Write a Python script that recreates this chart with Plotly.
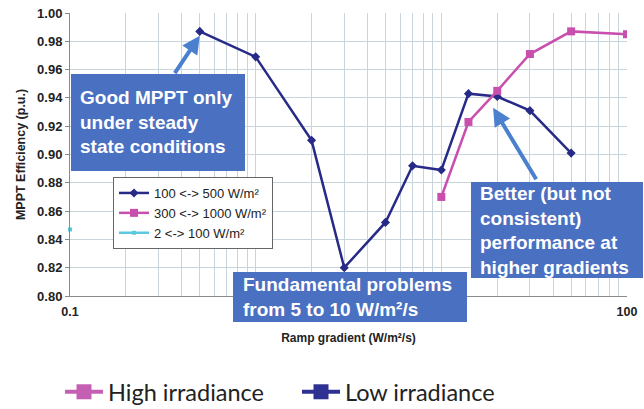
import math
import plotly.graph_objects as go

# ---- data ----
low_x = [0.5, 1, 2, 3, 5, 7, 10, 14, 20, 30, 50]
low_y = [0.987, 0.969, 0.910, 0.820, 0.852, 0.892, 0.889, 0.943, 0.941, 0.931, 0.901]
high_x = [10, 14, 20, 30, 50, 100]
high_y = [0.870, 0.923, 0.945, 0.971, 0.987, 0.985]
tiny_x = [0.1]
tiny_y = [0.847]

series_names = ["100 <-> 500 W/m²", "300 <-> 1000 W/m²", "2 <-> 100 W/m²"]
group_names = ["High irradiance", "Low irradiance"]

x_decades = [0.1, 1, 10, 100]
x_decade_labels = ["0.1", "", "10", "100"]  # the "1" label is covered by a callout box
y_ticks = [0.80, 0.82, 0.84, 0.86, 0.88, 0.90, 0.92, 0.94, 0.96, 0.98, 1.00]

NAVY = "#272a87"
PINK = "#c94fae"
CYAN = "#5cc8de"
BOX = "#4a70c2"
ARROW = "#4b80cf"
GRID = "#c9d5dd"
FONT = "Liberation Sans, Arial, sans-serif"

# log grid positions: 1..9 per decade, labels only on decades
grid_vals = []
grid_text = []
for i, d in enumerate(x_decades[:-1]):
    for k in range(1, 10):
        v = round(d * k, 6)
        grid_vals.append(v)
        grid_text.append(x_decade_labels[i] if k == 1 else "")
grid_vals.append(x_decades[-1])
grid_text.append(x_decade_labels[-1])

fig = go.Figure()

fig.add_trace(go.Scatter(
    x=low_x, y=low_y, name=series_names[0], mode="lines+markers",
    line=dict(color=NAVY, width=2.5),
    marker=dict(symbol="diamond", size=7, color=NAVY),
    legend="legend"))
fig.add_trace(go.Scatter(
    x=high_x, y=high_y, name=series_names[1], mode="lines+markers",
    line=dict(color=PINK, width=2.5),
    marker=dict(symbol="square", size=8, color=PINK),
    legend="legend"))
fig.add_trace(go.Scatter(
    x=tiny_x, y=tiny_y, name=series_names[2], mode="lines+markers",
    line=dict(color=CYAN, width=2.5),
    marker=dict(symbol="square", size=4, color=CYAN),
    cliponaxis=False,
    legend="legend"))

# bottom legend entries
fig.add_trace(go.Scatter(
    x=[None], y=[None], name=group_names[0], mode="lines+markers",
    line=dict(color="#c45fb3", width=4),
    marker=dict(symbol="square", size=15, color="#c45fb3"),
    legend="legend2"))
fig.add_trace(go.Scatter(
    x=[None], y=[None], name=group_names[1], mode="lines+markers",
    line=dict(color="#2e3192", width=4),
    marker=dict(symbol="square", size=15, color="#2e3192"),
    legend="legend2"))

L, R, T, B = 70, 17, 13, 113
W, H = 644, 409
PW, PH = W - L - R, H - T - B


def px(xp):
    return (xp - L) / PW


def py(yp):
    return (H - B - yp) / PH


shapes = []
annotations = []


def box(text, left, top, w, h, indent=7):
    shapes.append(dict(
        type="rect", xref="paper", yref="paper",
        x0=px(left), x1=px(left + w), y0=py(top + h), y1=py(top),
        fillcolor=BOX, line=dict(width=0), layer="above"))
    annotations.append(dict(
        text=text, xref="paper", yref="paper",
        x=px(left + indent), y=py(top + h / 2),
        xanchor="left", yanchor="middle", showarrow=False, align="left",
        font=dict(family=FONT, size=19, color="white", weight="bold")))


def arrow(xv, yv, ax, ay):
    annotations.append(dict(
        text="", x=math.log10(xv), y=yv, xref="x", yref="y",
        showarrow=True, ax=ax, ay=ay, arrowhead=2, arrowsize=0.9,
        arrowwidth=4, arrowcolor=ARROW, standoff=0, startstandoff=0))


box("Good MPPT only<br>under steady<br>state conditions", 71, 74, 174, 97)
box("Fundamental problems<br>from 5 to 10 W/m²/s", 233, 272, 234, 50, indent=8)
box("Better (but not<br>consistent)<br>performance at<br>higher gradients", 471, 182, 172, 96)
arrow(0.5, 0.984, -26, 39)
arrow(19, 0.933, 44, 73)

fig.update_layout(
    width=W, height=H,
    margin=dict(l=L, r=R, t=T, b=B, autoexpand=False),
    paper_bgcolor="white", plot_bgcolor="white",
    font=dict(family=FONT, color="#222"),
    shapes=shapes,
    annotations=annotations,
    showlegend=True,
    legend=dict(
        x=px(113), y=py(177), xanchor="left", yanchor="top",
        bgcolor="white", bordercolor="#666", borderwidth=1,
        font=dict(family=FONT, size=13, color="#222"),
        itemwidth=30, tracegroupgap=0),
    legend2=dict(
        orientation="h", x=px(60), y=py(392), xanchor="left", yanchor="middle",
        bgcolor="rgba(0,0,0,0)",
        font=dict(family="Lato, Carlito, sans-serif", size=23.5, color="#222"),
        entrywidth=184, entrywidthmode="pixels", itemwidth=38),
)

fig.update_xaxes(
    type="log", range=[-1, 2],
    tickmode="array", tickvals=grid_vals, ticktext=grid_text,
    showgrid=True, gridcolor=GRID, gridwidth=1,
    showline=True, linecolor="#8a8a8a", linewidth=1,
    ticks="", ticklabelstandoff=4,
    tickfont=dict(family=FONT, size=12.5, color="#222", weight="bold"),
    title=dict(text="Ramp gradient (W/m²/s)", standoff=15,
               font=dict(family=FONT, size=12, color="#222", weight="bold")),
    zeroline=False)

fig.update_yaxes(
    range=[0.8, 1.0], tickmode="array", tickvals=y_ticks,
    tickformat=".2f",
    showgrid=True, gridcolor=GRID, gridwidth=1,
    showline=True, linecolor="#8a8a8a", linewidth=1,
    ticks="outside", ticklen=4, tickcolor="#8a8a8a",
    tickfont=dict(family=FONT, size=13, color="#222", weight="bold"),
    title=dict(text="MPPT Efficiency (p.u.)", standoff=8,
               font=dict(family=FONT, size=12.5, color="#222", weight="bold")),
    zeroline=False)

fig.write_html("out.html")
